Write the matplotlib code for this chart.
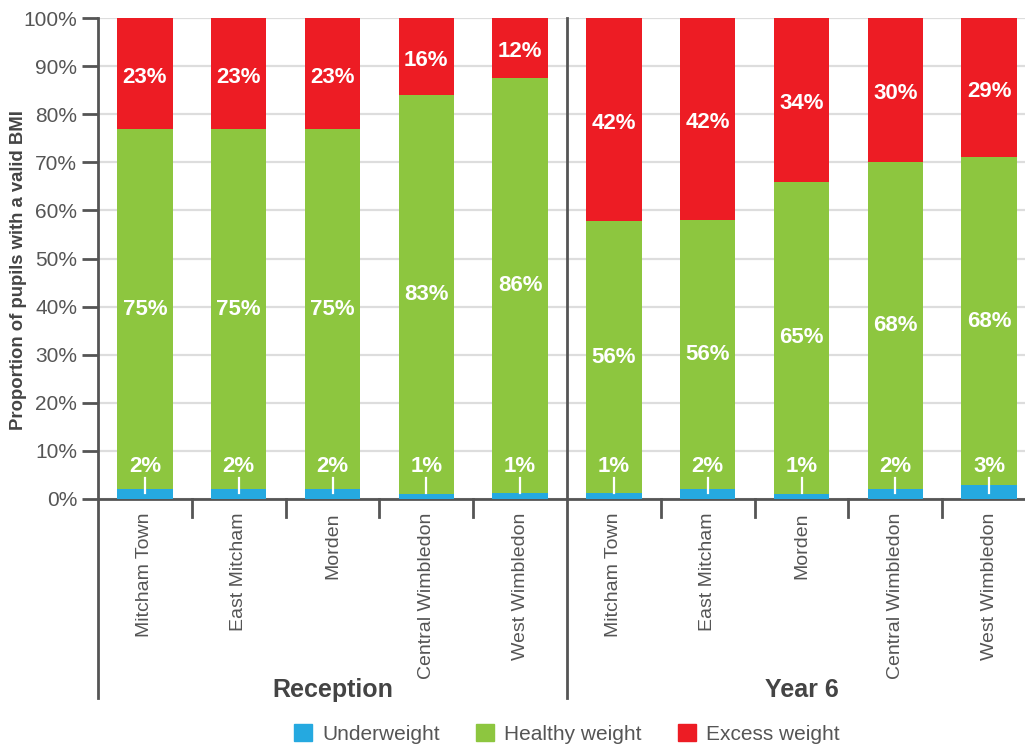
import matplotlib.pyplot as plt
from matplotlib.patches import Patch
import matplotlib.transforms as mtransforms

plt.rcParams['font.family'] = ['Liberation Sans', 'DejaVu Sans']

groups = ['Reception', 'Year 6']
areas = ['Mitcham Town', 'East Mitcham', 'Morden', 'Central Wimbledon', 'West Wimbledon']
underweight = [2, 2, 2, 1, 1.2, 1.3, 2, 1, 2, 3]
healthy = [75, 75, 75, 83, 86.4, 56.4, 56, 65, 68, 68]
excess = [23, 23, 23, 16, 12.4, 42.3, 42, 34, 30, 29]

c_under = '#25a9e0'
c_healthy = '#8dc63f'
c_excess = '#ed1c24'
dark = '#555555'

fig = plt.figure(figsize=(10.25, 7.44), dpi=100)
ax = fig.add_axes([98 / 1025, 245 / 744, 938 / 1025, 481 / 744])

labels = areas * len(groups)
x = list(range(len(labels)))
w = 0.59
bottom2 = [u + h for u, h in zip(underweight, healthy)]
ax.bar(x, underweight, w, color=c_under, zorder=3)
ax.bar(x, healthy, w, bottom=underweight, color=c_healthy, zorder=3)
ax.bar(x, excess, w, bottom=bottom2, color=c_excess, zorder=3)

lab_kw = dict(ha='center', va='center', color='white', fontsize=16,
              fontweight='bold', zorder=5)
for i in x:
    ax.text(i, 6.8, f'{underweight[i]:.0f}%', **lab_kw)
    ax.plot([i, i], [1.3, 4.3], color='white', lw=1.6, zorder=5)
    ax.text(i, underweight[i] + healthy[i] / 2, f'{healthy[i]:.0f}%', **lab_kw)
    ax.text(i, bottom2[i] + excess[i] / 2 - 0.8, f'{excess[i]:.0f}%', **lab_kw)

ax.set_xlim(-0.5, len(labels) - 0.5)
ax.set_ylim(0, 100)
ax.set_yticks(range(0, 101, 10))
ax.set_yticklabels([f'{v}%' for v in range(0, 101, 10)])
ax.yaxis.grid(True, color='#dddddd', lw=1.6, zorder=0)
ax.set_axisbelow(True)
ax.tick_params(axis='y', length=11.5, width=2, color=dark, labelcolor=dark,
               labelsize=15, pad=3.5)
ax.set_xticks(x)
ax.set_xticklabels(labels, rotation=90, va='top', ha='center')
ax.tick_params(axis='x', length=0, labelcolor=dark, labelsize=14, pad=9.5)

for s in ['top', 'right', 'left']:
    ax.spines[s].set_visible(False)
ax.spines['bottom'].set_color(dark)
ax.spines['bottom'].set_linewidth(2)

trans = mtransforms.blended_transform_factory(ax.transData, ax.transAxes)
for xs in [-0.5, 4.5]:
    ax.plot([xs, xs], [-0.414, 1], color=dark, lw=2, transform=trans,
            clip_on=False, zorder=4)
for xs in [0.5, 1.5, 2.5, 3.5, 5.5, 6.5, 7.5, 8.5]:
    ax.plot([xs, xs], [0, -0.038], color=dark, lw=2, transform=trans,
            clip_on=False)

for gi, g in enumerate(groups):
    ax.text(gi * 5 + 2, -0.398, g, transform=trans, ha='center', va='center',
            fontsize=18, fontweight='bold', color='#444444')

fig.text(19 / 1025, 1 - 270 / 744, 'Proportion of pupils with a valid BMI',
         rotation=90, ha='center', va='center', fontsize=13.3,
         fontweight='bold', color='#444444')

handles = [Patch(color=c_under, label='Underweight'),
           Patch(color=c_healthy, label='Healthy weight'),
           Patch(color=c_excess, label='Excess weight')]
leg = fig.legend(handles=handles, loc='lower center', ncol=3,
                 bbox_to_anchor=(0.553, -0.025), frameon=False, fontsize=15,
                 handlelength=0.86, handleheight=0.86, handletextpad=0.48,
                 columnspacing=1.75)
for t in leg.get_texts():
    t.set_color(dark)

fig.savefig('out.png', dpi=100)
